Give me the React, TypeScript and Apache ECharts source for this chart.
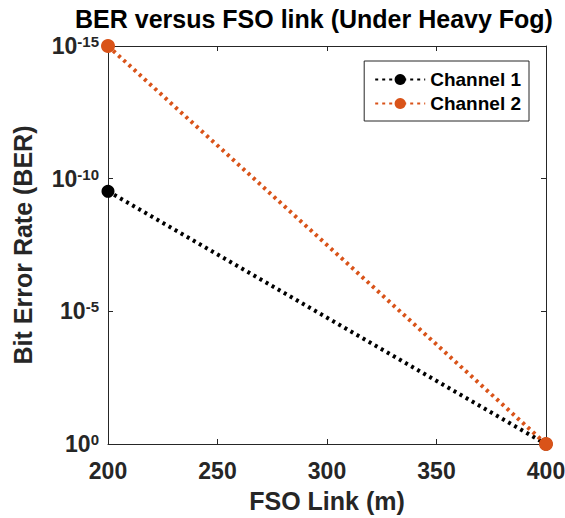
import React, { useEffect, useRef } from "react";
import * as echarts from "echarts";

const linkLength = [200, 400];
const channel1 = [3e-10, 1];
const channel2 = [1e-15, 1];
const seriesNames = ["Channel 1", "Channel 2"];
const xTicks = [200, 250, 300, 350, 400];

const FONT = "'Liberation Sans', Arial, sans-serif";
const TXT = "#262626";

export default function App() {
  const ref = useRef<HTMLDivElement>(null);
  useEffect(() => {
    if (!ref.current) return;
    const chart = echarts.init(ref.current, undefined, { renderer: "svg" });
    const supLabel = (v: number) => {
      const e = Math.round(Math.log10(v));
      return `{b|10}{s|${e}}`;
    };
    const rich = {
      b: { fontSize: 23, fontWeight: "bold", color: TXT, fontFamily: FONT, lineHeight: 22 },
      s: { fontSize: 15, fontWeight: "bold", color: TXT, fontFamily: FONT, lineHeight: 15, padding: [0, 0, 9, 0] },
    };
    chart.setOption({
      animation: false,
      backgroundColor: "#fff",
      title: {
        text: "BER versus FSO link (Under Heavy Fog)",
        left: 309,
        textAlign: "center",
        top: 0,
        textStyle: { fontSize: 25, fontWeight: "bold", color: "#000", fontFamily: FONT, lineHeight: 28 },
      },
      legend: {
        data: seriesNames,
        orient: "vertical",
        right: 36,
        top: 61,
        backgroundColor: "#fff",
        borderColor: "#262626",
        borderWidth: 1,
        borderRadius: 0,
        padding: [9, 8, 8, 10],
        itemGap: 5,
        itemWidth: 50,
        itemHeight: 14,
        textStyle: { fontSize: 19, fontWeight: "bold", color: "#000", fontFamily: FONT },
      },
      grid: { left: 108, right: 19, top: 46, bottom: 74, outerBoundsMode: "none", containLabel: false },
      xAxis: [
        {
          type: "value",
          min: 200,
          max: 400,
          interval: 50,
          name: "FSO Link (m)",
          nameLocation: "middle",
          nameGap: 44,
          nameTextStyle: { fontSize: 25, fontWeight: "bold", color: TXT, fontFamily: FONT },
          axisLine: { show: true, lineStyle: { color: "#262626", width: 1 } },
          axisTick: { show: true, inside: true, length: 5, lineStyle: { color: "#262626" } },
          axisLabel: {
            fontSize: 23,
            fontWeight: "bold",
            color: TXT,
            fontFamily: FONT,
            margin: 15,
            formatter: (v: number) => (xTicks.includes(v) ? String(v) : ""),
          },
          splitLine: { show: false },
        },
        {
          type: "value",
          position: "top",
          min: 200,
          max: 400,
          interval: 50,
          axisLine: { show: true, lineStyle: { color: "#262626", width: 1 } },
          axisTick: { show: true, inside: true, length: 5, lineStyle: { color: "#262626" } },
          axisLabel: { show: false },
          splitLine: { show: false },
        },
      ],
      yAxis: [
        {
          type: "log",
          logBase: 10,
          min: 1e-15,
          max: 1,
          interval: 5,
          inverse: true,
          name: "Bit Error Rate (BER)",
          nameLocation: "middle",
          nameGap: 73,
          nameTextStyle: { fontSize: 25, fontWeight: "bold", color: TXT, fontFamily: FONT },
          axisLine: { show: true, lineStyle: { color: "#262626", width: 1 } },
          axisTick: { show: true, inside: true, length: 5, lineStyle: { color: "#262626" } },
          axisLabel: { formatter: supLabel, rich, margin: 9 },
          splitLine: { show: false },
          minorTick: { show: false },
        },
        {
          type: "log",
          logBase: 10,
          min: 1e-15,
          max: 1,
          interval: 5,
          inverse: true,
          position: "right",
          axisLine: { show: true, lineStyle: { color: "#262626", width: 1 } },
          axisTick: { show: true, inside: true, length: 5, lineStyle: { color: "#262626" } },
          axisLabel: { show: false },
          splitLine: { show: false },
        },
      ],
      series: [
        {
          name: seriesNames[0],
          type: "line",
          data: linkLength.map((x, i) => [x, channel1[i]]),
          symbol: "circle",
          symbolSize: 13,
          color: "#000000",
          lineStyle: { type: [3, 4], width: 4, color: "#000000" },
          itemStyle: { color: "#000000" },
          z: 3,
        },
        {
          name: seriesNames[1],
          type: "line",
          data: linkLength.map((x, i) => [x, channel2[i]]),
          symbol: "circle",
          symbolSize: 14,
          color: "#D95319",
          lineStyle: { type: [3, 4], width: 4, color: "#D95319" },
          itemStyle: { color: "#D95319" },
          z: 4,
        },
      ],
    });
    return () => chart.dispose();
  }, []);
  return (
    <div
      ref={ref}
      style={{ position: "fixed", left: 0, top: 0, width: 565, height: 518 }}
    />
  );
}
